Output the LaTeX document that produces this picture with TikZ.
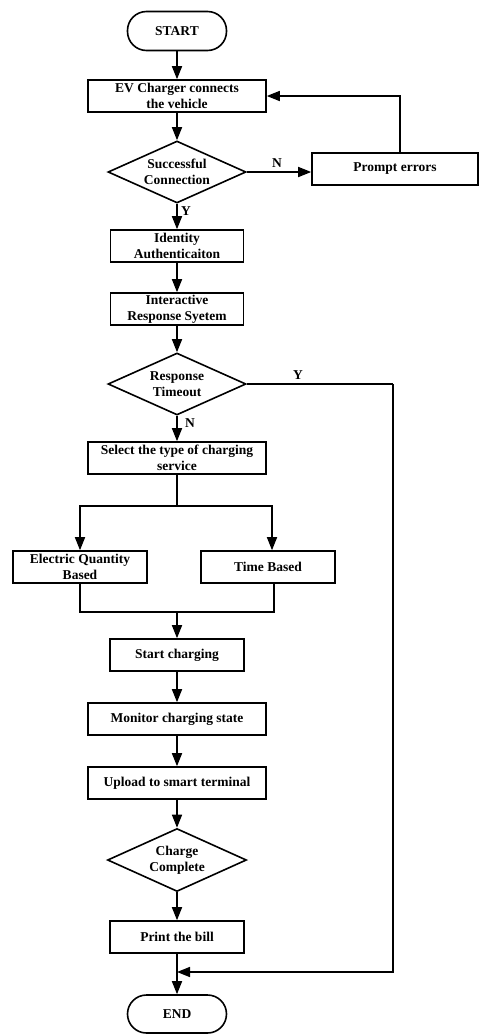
\documentclass[tikz,border=0pt]{standalone}
\usepackage{fontspec}
\setmainfont{Liberation Serif}
\usetikzlibrary{shapes.geometric,arrows.meta}

\begin{document}
\begin{tikzpicture}[x=1pt,y=1pt,
    line width=1.6pt,
    >={Triangle[length=13pt,width=10pt]},
    every node/.style={font=\fontsize{13.5}{16}\selectfont\bfseries, align=center},
    procbox/.style={draw, rectangle, minimum height=32pt, inner sep=1pt},
    termbox/.style={draw, rectangle, rounded corners=19pt, minimum width=99pt, minimum height=39pt},
    decision/.style={draw, diamond, aspect=2.2, inner sep=0pt, minimum width=138pt, minimum height=62pt}]
    \useasboundingbox (0,0) rectangle (481,-1034);

    \node[termbox] (start) at (177,-31) {START};
    \node[procbox, minimum width=178pt] (evConnect) at (177,-96) {EV Charger connects\\the vehicle};
    \node[decision] (connCheck) at (177,-172) {Successful\\Connection};
    \node[procbox, minimum width=166pt] (promptErrors) at (395,-169) {Prompt errors};
    \node[procbox, minimum width=133pt] (identAuth) at (177,-246) {Identity\\Authenticaiton};
    \node[procbox, minimum width=133pt] (respSystem) at (177,-309) {Interactive\\Response Syetem};
    \node[decision] (timeoutCheck) at (177,-384) {Response\\Timeout};
    \node[procbox, minimum width=178pt] (selectType) at (177,-458) {Select the type of charging\\service};
    \node[procbox, minimum width=134pt] (quantityBased) at (80,-567) {Electric Quantity\\Based};
    \node[procbox, minimum width=134pt] (timeBased) at (268,-567) {Time Based};
    \node[procbox, minimum width=134pt] (startCharging) at (177,-655) {Start charging};
    \node[procbox, minimum width=178pt] (monitorState) at (177,-719) {Monitor charging state};
    \node[procbox, minimum width=178pt] (uploadTerminal) at (177,-783) {Upload to smart terminal};
    \node[decision, minimum width=139pt, minimum height=63pt] (completeCheck) at (177,-860) {Charge\\Complete};
    \node[procbox, minimum width=134pt] (printBill) at (177,-937) {Print the bill};
    \node[termbox, minimum height=38pt] (finish) at (177,-1014) {END};

    \coordinate (split) at (177,-506);
    \coordinate (merge) at (177,-612);
    \coordinate (rightRail) at (393,-384);
    \coordinate (join) at (177,-972);

    \draw[->] (start) -- (evConnect);
    \draw[->] (evConnect) -- (connCheck);
    \draw[->] (connCheck.east) -- node[above, xshift=-2pt] {N} (connCheck.east -| promptErrors.west);
    \draw[->] ([xshift=5pt]promptErrors.north) |- (evConnect.east);
    \draw[->] (connCheck.south) -- node[right, pos=0.3] {Y} (identAuth.north);
    \draw[->] (identAuth) -- (respSystem);
    \draw[->] (respSystem) -- (timeoutCheck);
    \draw[->] (timeoutCheck.south) -- node[right, pos=0.3, xshift=4pt] {N} (selectType.north);
    \draw (timeoutCheck.east) -- node[above, pos=0.35] {Y} (rightRail);
    \draw[->] (rightRail) |- (join);

    \draw (selectType.south) -- (split);
    \draw[->] (split) -| (quantityBased.north);
    \draw[->] (split) -| ([xshift=4pt]timeBased.north);
    \draw (quantityBased.south) |- (merge);
    \draw ([xshift=6pt]timeBased.south) |- (merge);
    \draw[->] (merge) -- (startCharging);
    \draw[->] (startCharging) -- (monitorState);
    \draw[->] (monitorState) -- (uploadTerminal);
    \draw[->] (uploadTerminal) -- (completeCheck);
    \draw[->] (completeCheck) -- (printBill);
    \draw[->] (printBill.south) -- (finish.north);
\end{tikzpicture}
\end{document}
